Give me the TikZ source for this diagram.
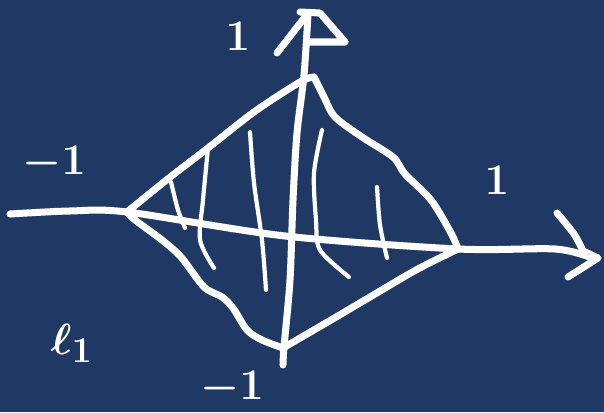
\documentclass[tikz,border=0pt]{standalone}
\usetikzlibrary{positioning}
\definecolor{boardblue}{HTML}{203864}

\begin{document}
\begin{tikzpicture}[
    x=0.02cm, y=-0.02cm,
    every node/.style={text=white, font=\fontsize{30}{32}\selectfont\boldmath},
    chalk/.style={draw=white, line width=4pt, line cap=round, line join=round},
    hatch/.style={draw=white, line width=2.4pt, line cap=round, line join=round}
]
    % Board
    \fill[boardblue] (0,0) rectangle (604,412);
    \useasboundingbox (0,0) rectangle (604,412);

    % Corners of the unit ball
    \coordinate (left) at (127,212);
    \coordinate (top) at (314,77);
    \coordinate (right) at (458,249);
    \coordinate (bottom) at (283,348);

    % Horizontal axis
    \draw[chalk] plot[smooth] coordinates {(10,214) (70,211) (left) (285,236) (right) (555,249) (592,258)};
    \draw[chalk] plot[smooth] coordinates {(557,213) (574,234) (583,251)} -- (598,258) -- (568,277);

    % Vertical axis
    \draw[chalk] plot[smooth] coordinates {(283,365) (284,347) (290,280) (293,200) (297,133) (304,75) (308,14)};
    \draw[chalk] (277,53) -- (305,17);
    \draw[chalk] (300,12) -- (320,13) -- (345,42) -- (310,42);

    % Edges of the diamond
    \draw[chalk] plot[smooth] coordinates {(left) (169,178) (208,148) (254,112) (300,82) (top)};
    \draw[chalk] plot[smooth] coordinates {(top) (324,97) (335,117) (362,137) (393,157) (405,174) (431,200) (451,233) (right)};
    \draw[chalk] plot[smooth] coordinates {(right) (416,270) (370,297) (331,320) (bottom)};
    \draw[chalk] plot[smooth] coordinates {(bottom) (262,340) (247,330) (233,308) (222,297) (204,287) (181,257) (162,240) (135,220) (left)};

    % Hatching
    \draw[hatch] plot[smooth] coordinates {(171,182) (178,210) (185,228)};
    \draw[hatch] plot[smooth] coordinates {(208,148) (203,200) (200,240) (214,268)};
    \draw[hatch] plot[smooth] coordinates {(250,132) (254,183) (262,240) (266,290)};
    \draw[hatch] plot[smooth] coordinates {(322,130) (314,173) (316,220) (320,250) (349,277)};
    \draw[hatch] plot[smooth] coordinates {(377,187) (380,225) (387,258)};

    % Labels
    \node (ypos) at (238,36) {$1$};
    \node (xneg) at (54,163) {$-1$};
    \node (xpos) at (497,180) {$1$};
    \node (yneg) at (232,388) {$-1$};
    \node (norm) at (72,343) {$\ell_1$};
\end{tikzpicture}
\end{document}
